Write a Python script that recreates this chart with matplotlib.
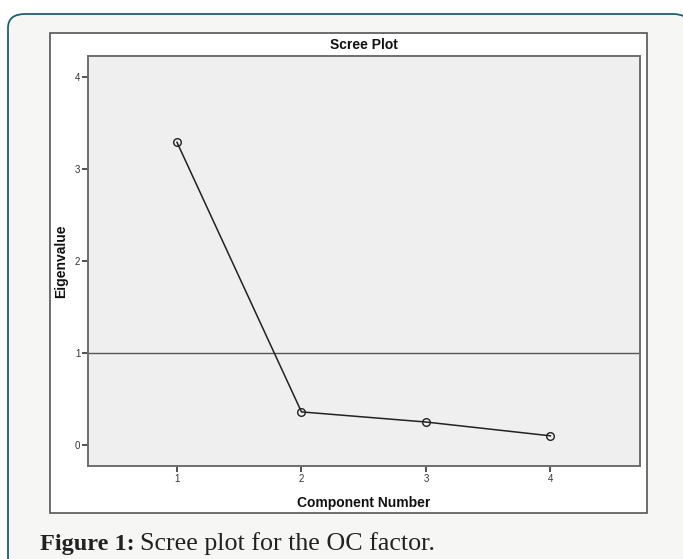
import matplotlib.pyplot as plt
from matplotlib.patches import FancyBboxPatch, Rectangle

# Scree plot values
components = [1, 2, 3, 4]
eigenvalues = [3.29, 0.36, 0.25, 0.10]
y_ticks = [0, 1, 2, 3, 4]
kaiser_line = 1

W, H = 683, 559


def fx(px):
    return px / W


def fy(py):
    return 1 - py / H


fig = plt.figure(figsize=(W / 100, H / 100), dpi=100)
fig.patch.set_facecolor('white')

# rounded frame around figure + caption
frame = FancyBboxPatch((fx(8), fy(575)), fx(690) - fx(8), fy(14) - fy(575),
                       boxstyle='round,pad=0,rounding_size=0.025',
                       transform=fig.transFigure, facecolor='#f6f6f5',
                       edgecolor='#1f5f73', linewidth=1.3, zorder=-3)
fig.patches.append(frame)

# white chart box
box = Rectangle((fx(50), fy(513)), fx(647) - fx(50), fy(33) - fy(513),
                transform=fig.transFigure, facecolor='white',
                edgecolor='#555555', linewidth=1.2, zorder=-2)
fig.patches.append(box)

ax = fig.add_axes([fx(88), fy(466), fx(640) - fx(88), fy(56) - fy(466)])
ax.set_facecolor('#efefef')
for s in ax.spines.values():
    s.set_color('#6e6e6e')
    s.set_linewidth(1.4)

ax.axhline(kaiser_line, color='#555555', linewidth=1.0, zorder=2)
ax.plot(components, eigenvalues, color='#222222', linewidth=1.1,
        marker='o', markersize=5.5, markerfacecolor='none',
        markeredgecolor='#222222', markeredgewidth=1.0, zorder=3)

ax.set_xlim(0.285, 4.72)
ax.set_ylim(-0.228, 4.228)
ax.set_xticks(components)
ax.set_yticks(y_ticks)
ax.tick_params(axis='both', direction='out', length=4, width=1.2,
               color='#333333', labelsize=7, labelcolor='#333333', pad=1.5)

font = 'Liberation Sans'
ax.set_title('Scree Plot', fontsize=10, fontweight='bold', family=font,
             color='#111111', pad=5)
ax.set_xlabel('Component Number', fontsize=10, fontweight='bold',
              family=font, color='#111111', labelpad=9)
ax.set_ylabel('Eigenvalue', fontsize=10, fontweight='bold', family=font,
              color='#111111', labelpad=5)
for lbl in ax.get_xticklabels() + ax.get_yticklabels():
    lbl.set_family(font)

# caption
cap1 = fig.text(fx(40), fy(550), 'Figure 1:', family='Liberation Serif',
                fontweight='bold', fontsize=17.5, color='#222222',
                va='baseline')
fig.canvas.draw()
bb = cap1.get_window_extent()
fig.text(bb.x1 / W + fx(5), fy(550), 'Scree plot for the OC factor.',
         family='Liberation Serif', fontsize=18.7, color='#222222',
         va='baseline')

fig.savefig('out.png', dpi=100)
